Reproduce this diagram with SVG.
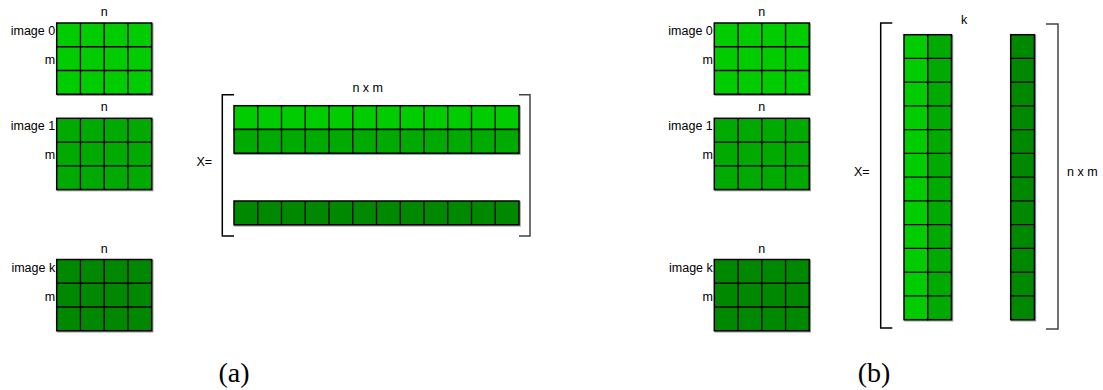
<svg xmlns="http://www.w3.org/2000/svg" xmlns:xlink="http://www.w3.org/1999/xlink" width="1103" height="390" viewBox="0 0 1103 390">
<style>
.c1{fill:#00cc00}
.c2{fill:#00aa00}
.c3{fill:#008800}
.box{stroke:#000;stroke-width:1.5}
.sh{fill:none;stroke:#9a9a9a;stroke-width:1.5}
.ln{fill:none;stroke:#000;stroke-width:1.3}
.br{fill:none;stroke:#000;stroke-width:1.5}
.brr{fill:none;stroke:#444;stroke-width:1.5}
.t{font-family:"Liberation Sans",Arial,sans-serif;font-size:12.5px;fill:#000}
.e{text-anchor:end}
.m{text-anchor:middle}
.cap{font-family:"Liberation Serif","Times New Roman",serif;font-size:28px;fill:#000;text-anchor:middle}
</style>
<defs>
<path id="grid" d="M23.75 0V71.25M47.5 0V71.25M71.25 0V71.25M0 23.75H95M0 47.5H95"/>
<path id="row" d="M23.75 0V23.75M47.5 0V23.75M71.25 0V23.75M95 0V23.75M118.75 0V23.75M142.5 0V23.75M166.25 0V23.75M190 0V23.75M213.75 0V23.75M237.5 0V23.75M261.25 0V23.75"/>
<path id="col" d="M0 23.75H23.75M0 47.5H23.75M0 71.25H23.75M0 95H23.75M0 118.75H23.75M0 142.5H23.75M0 166.25H23.75M0 190H23.75M0 213.75H23.75M0 237.5H23.75M0 261.25H23.75"/>
</defs>

<g id="a-image0" transform="translate(56.7,23)">
<rect class="sh" x="1" y="1" width="95" height="71.25"/>
<rect class="c1 box" width="95" height="71.25"/>
<use xlink:href="#grid" href="#grid" class="ln"/>
<text class="t m" x="47.5" y="-7">n</text>
<text class="t e" x="-1.5" y="12">image 0</text>
<text class="t e" x="-1.5" y="41">m</text>
</g>
<g id="a-image1" transform="translate(56.7,118.3)">
<rect class="sh" x="1" y="1" width="95" height="71.25"/>
<rect class="c2 box" width="95" height="71.25"/>
<use xlink:href="#grid" href="#grid" class="ln"/>
<text class="t m" x="47.5" y="-7">n</text>
<text class="t e" x="-1.5" y="12">image 1</text>
<text class="t e" x="-1.5" y="41">m</text>
</g>
<g id="a-imagek" transform="translate(56.7,259.5)">
<rect class="sh" x="1" y="1" width="95" height="71.25"/>
<rect class="c3 box" width="95" height="71.25"/>
<use xlink:href="#grid" href="#grid" class="ln"/>
<text class="t m" x="47.5" y="-7">n</text>
<text class="t e" x="-1.5" y="12">image k</text>
<text class="t e" x="-1.5" y="41">m</text>
</g>

<g id="a-matrix">
<path class="br" d="M234 94.7H222.3V236H234"/>
<path class="brr" d="M519 94.7H530V236H519"/>
<g transform="translate(234,105.7)">
<rect class="sh" x="1" y="1" width="285" height="47.5"/>
<rect class="c1 box" width="285" height="23.75"/>
<rect class="c2 box" y="23.75" width="285" height="23.75"/>
<use xlink:href="#row" href="#row" class="ln"/>
<use xlink:href="#row" href="#row" class="ln" y="23.75"/>
<rect class="sh" x="1" y="96.3" width="285" height="23.75"/>
<rect class="c3 box" y="95.3" width="285" height="23.75"/>
<use xlink:href="#row" href="#row" class="ln" y="95.3"/>
</g>
<text class="t m" x="367.7" y="92">n x m</text>
<text class="t" x="196.5" y="166">X=</text>
</g>

<g id="b-image0" transform="translate(714.3,23)">
<rect class="sh" x="1" y="1" width="95" height="71.25"/>
<rect class="c1 box" width="95" height="71.25"/>
<use xlink:href="#grid" href="#grid" class="ln"/>
<text class="t m" x="47.5" y="-7">n</text>
<text class="t e" x="-1.5" y="12">image 0</text>
<text class="t e" x="-1.5" y="41">m</text>
</g>
<g id="b-image1" transform="translate(714.3,118.3)">
<rect class="sh" x="1" y="1" width="95" height="71.25"/>
<rect class="c2 box" width="95" height="71.25"/>
<use xlink:href="#grid" href="#grid" class="ln"/>
<text class="t m" x="47.5" y="-7">n</text>
<text class="t e" x="-1.5" y="12">image 1</text>
<text class="t e" x="-1.5" y="41">m</text>
</g>
<g id="b-imagek" transform="translate(714.3,259.5)">
<rect class="sh" x="1" y="1" width="95" height="71.25"/>
<rect class="c3 box" width="95" height="71.25"/>
<use xlink:href="#grid" href="#grid" class="ln"/>
<text class="t m" x="47.5" y="-7">n</text>
<text class="t e" x="-1.5" y="12">image k</text>
<text class="t e" x="-1.5" y="41">m</text>
</g>

<g id="b-matrix">
<path class="br" d="M892.3 23H880.7V328H892.3"/>
<path class="brr" d="M1046 24H1058V329H1046"/>
<g transform="translate(904,34.7)">
<rect class="sh" x="1" y="1" width="47.5" height="285"/>
<rect class="c1 box" width="23.75" height="285"/>
<rect class="c2 box" x="23.75" width="23.75" height="285"/>
<use xlink:href="#col" href="#col" class="ln"/>
<use xlink:href="#col" href="#col" class="ln" x="23.75"/>
<rect class="sh" x="107.7" y="1" width="23.75" height="285"/>
<rect class="c3 box" x="106.7" width="23.75" height="285"/>
<use xlink:href="#col" href="#col" class="ln" x="106.7"/>
</g>
<text class="t m" x="964" y="24">k</text>
<text class="t" x="1067" y="176">n x m</text>
<text class="t" x="854" y="176">X=</text>
</g>

<g id="captions">
<text class="cap" x="234" y="382">(a)</text>
<text class="cap" x="874" y="382">(b)</text>
</g>
</svg>
